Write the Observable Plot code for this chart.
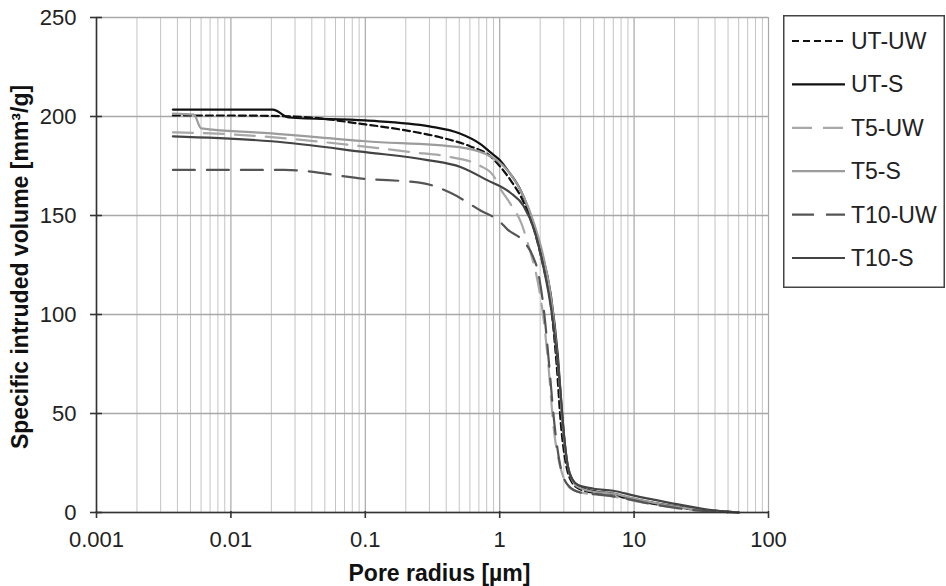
<!DOCTYPE html>
<html>
<head>
<meta charset="utf-8">
<script src="https://cdn.jsdelivr.net/npm/d3@7"></script>
<script src="https://cdn.jsdelivr.net/npm/@observablehq/plot@0.6"></script>
<style>
  html, body { margin: 0; padding: 0; background: #fff; }
  #wrap { position: relative; width: 946px; height: 586px; font-family: "Liberation Sans", Arial, sans-serif; }
  #legend { position: absolute; left: 783px; top: 15px; }
</style>
</head>
<body>
<div id="wrap"></div>
<script>
// ---- data ----
const seriesNames = ["UT-UW", "UT-S", "T5-UW", "T5-S", "T10-UW", "T10-S"];
const seriesColors = ["#111111", "#111111", "#a8a8a8", "#9c9c9c", "#555555", "#444444"];
const seriesDash = ["7,4", null, "20,11", null, "22,12", null];

const utuwX = [0.0037, 0.01, 0.03, 0.1, 0.18, 0.36, 0.6, 0.85, 1.0, 1.2, 1.5, 1.8, 2.1, 2.4, 2.65, 2.85, 3.1, 3.4, 3.9, 5, 6.5, 9, 15, 25, 40, 60];
const utuwY = [200.5, 200.5, 200, 196, 193.5, 189.5, 185, 180, 175, 168, 157, 143, 125, 105, 75, 45, 25, 16, 12, 10, 9.5, 7, 4, 2, 0.8, 0];

const utsX = [0.0037, 0.0205, 0.027, 0.1, 0.3, 0.5, 0.72, 0.85, 1.0, 1.14, 1.4, 1.68, 2.0, 2.4, 2.7, 2.95, 3.2, 3.6, 4.2, 5.3, 7, 9, 15, 25, 40, 60];
const utsY = [203.5, 203.5, 199.5, 198, 195, 191.5, 186, 182, 178, 173, 164, 151, 134, 110, 80, 45, 24, 15, 12, 10.5, 9.5, 7.5, 4.5, 2.2, 0.8, 0];

const t5uwX = [0.0037, 0.01, 0.05, 0.22, 0.43, 0.72, 0.9, 1.0, 1.2, 1.45, 1.65, 1.9, 2.1, 2.3, 2.5, 2.8, 3.4, 4.5, 6.5, 9, 16, 30, 55];
const t5uwY = [192, 191, 187, 182, 179.5, 175, 170, 164, 156, 146, 134, 118, 100, 75, 45, 24, 12, 9.5, 8.5, 6.5, 3.5, 1, 0];

const t5sX = [0.0037, 0.0053, 0.006, 0.02, 0.1, 0.5, 0.9, 1.2, 1.5, 1.8, 2.1, 2.45, 2.75, 3.0, 3.3, 3.8, 5, 7, 10, 18, 35, 60];
const t5sY = [201.5, 201, 194, 191.5, 187.5, 184.5, 179, 171, 160, 146, 130, 105, 70, 38, 20, 13, 10.5, 9.5, 7, 3.5, 1, 0];

const t10uwX = [0.0037, 0.025, 0.1, 0.26, 0.43, 0.72, 1.0, 1.14, 1.5, 1.75, 1.95, 2.15, 2.35, 2.55, 2.8, 3.2, 4, 5.5, 8, 13, 25, 50];
const t10uwY = [173, 173, 168.5, 166.5, 161.5, 152.5, 147, 143, 137, 130, 120, 100, 72, 45, 25, 14, 10, 9, 7.5, 4.5, 1.5, 0];

const t10sX = [0.0037, 0.02, 0.1, 0.29, 0.51, 0.8, 1.2, 1.5, 1.8, 2.1, 2.45, 2.8, 3.05, 3.3, 3.8, 5, 7, 10, 18, 35, 60];
const t10sY = [190, 187.5, 182, 178, 174.5, 168, 161.5, 155, 143, 125, 100, 65, 35, 20, 14, 12, 11, 8.5, 5, 1.5, 0];

const xTicks = [0.001, 0.01, 0.1, 1, 10, 100];
const xTickLabels = ["0.001", "0.01", "0.1", "1", "10", "100"];
const yTicks = [0, 50, 100, 150, 200, 250];
const yTickLabels = ["0", "50", "100", "150", "200", "250"];
const minorMultipliers = [2, 3, 4, 5, 6, 7, 8, 9];
const xTitle = "Pore radius [µm]";
const yTitle = "Specific intruded volume [mm³/g]";

// ---- build table ----
const seriesXs = [utuwX, utsX, t5uwX, t5sX, t10uwX, t10sX];
const seriesYs = [utuwY, utsY, t5uwY, t5sY, t10uwY, t10sY];
const rows = [];
seriesNames.forEach((name, i) => {
  seriesXs[i].forEach((x, j) => rows.push({series: name, x, y: seriesYs[i][j]}));
});
const minorGrid = xTicks.slice(0, -1).flatMap(d => minorMultipliers.map(k => k * d));

const font = "Liberation Sans, Arial, sans-serif";

const lineMarks = seriesNames.map((name, i) =>
  Plot.line(rows.filter(r => r.series === name), {
    x: "x", y: "y", curve: "monotone-x",
    stroke: seriesColors[i], strokeWidth: 2.2,
    strokeDasharray: seriesDash[i] || undefined
  })
);

const xLabel = d => xTickLabels[xTicks.findIndex(t => Math.abs(t - d) < t * 1e-6)];
const yLabel = d => yTickLabels[yTicks.indexOf(d)];

const chart = Plot.plot({
  width: 946, height: 586,
  marginLeft: 96, marginRight: 178, marginTop: 17, marginBottom: 74,
  x: {type: "log", domain: [0.001, 100]},
  y: {domain: [0, 250]},
  style: {fontFamily: font, fontSize: "22px", color: "#222", background: "#fff"},
  marks: [
    Plot.ruleX(minorGrid, {stroke: "#c4c4c4", strokeWidth: 1}),
    Plot.ruleX(xTicks, {stroke: "#a8a8a8", strokeWidth: 1.2}),
    Plot.ruleY(yTicks, {stroke: "#a8a8a8", strokeWidth: 1.4}),
    ...lineMarks,
    Plot.ruleX([xTicks[0]], {stroke: "#333", strokeWidth: 1.6}),
    Plot.ruleY([yTicks[0]], {stroke: "#333", strokeWidth: 1.6}),
    Plot.ruleY(yTicks, {x1: xTicks[0], x2: xTicks[0], insetLeft: -6, insetRight: -6, stroke: "#333", strokeWidth: 1.6}),
    Plot.ruleX(xTicks, {y1: yTicks[0], y2: yTicks[0], insetTop: -1, insetBottom: -6, stroke: "#333", strokeWidth: 1.6}),
    Plot.axisX(xTicks, {tickSize: 0, tickPadding: 19, tickFormat: xLabel, label: null, fontSize: 22}),
    Plot.axisY(yTicks, {tickSize: 0, tickPadding: 20, tickFormat: yLabel, label: null, fontSize: 22}),
    Plot.text([xTitle], {text: d => d, frameAnchor: "bottom", dx: 7, dy: 68, fontWeight: "bold", fontSize: 23, fill: "#111"}),
    Plot.text([yTitle], {text: d => d, frameAnchor: "left", textAnchor: "middle", dx: -76, dy: 2, rotate: -90, fontWeight: "bold", fontSize: 23, fill: "#111"})
  ]
});
document.getElementById("wrap").appendChild(chart);

// ---- legend ----
const lw = 162, lh = 273;
const legend = d3.create("svg").attr("id", "legend").attr("width", lw).attr("height", lh)
  .style("font-family", font);
legend.append("rect").attr("x", 0.75).attr("y", 0.75).attr("width", lw - 1.5).attr("height", lh - 1.5)
  .attr("fill", "#fff").attr("stroke", "#444").attr("stroke-width", 1.5);
seriesNames.forEach((name, i) => {
  const cy = 26 + i * 43.4;
  legend.append("line").attr("x1", 9).attr("x2", 62).attr("y1", cy).attr("y2", cy)
    .attr("stroke", seriesColors[i]).attr("stroke-width", 2.2)
    .attr("stroke-dasharray", seriesDash[i] || null);
  legend.append("text").attr("x", 68).attr("y", cy).attr("dy", "0.35em")
    .attr("font-size", 23).attr("fill", "#222").text(name);
});
document.getElementById("wrap").appendChild(legend.node());
</script>
</body>
</html>
